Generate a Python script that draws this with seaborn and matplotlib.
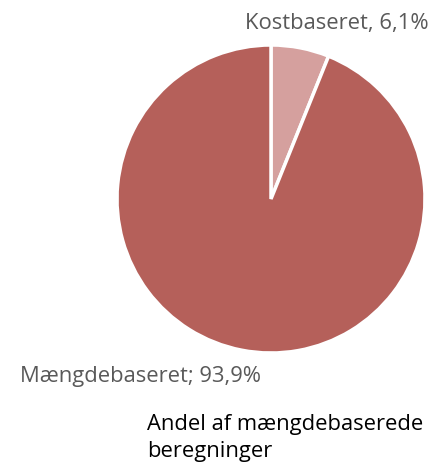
import matplotlib
matplotlib.use("Agg")
import matplotlib.pyplot as plt
import seaborn as sns

sns.set_theme(style="white")
plt.rcParams["font.family"] = ["Open Sans", "DejaVu Sans"]

categories = ["Kostbaseret", "Mængdebaseret"]
values = [6.1, 93.9]
labels = ["Kostbaseret, 6,1%", "Mængdebaseret; 93,9%"]
colors = ["#D5A09E", "#B5605A"]
title = "Andel af mængdebaserede\nberegninger"

W, H = 436, 462
fig = plt.figure(figsize=(W / 100, H / 100), dpi=100)
ax = fig.add_axes([117 / W, 1 - 353 / H, 308 / W, 308 / H])
ax.pie(values, colors=colors, startangle=90, counterclock=False,
       wedgeprops=dict(edgecolor="white", linewidth=2.5))
ax.set_xlim(-1, 1)
ax.set_ylim(-1, 1)
ax.set_aspect("equal")
ax.axis("off")

# labels
fs = 15.8
fig.text(245 / W, 1 - 29 / H, labels[0], fontsize=fs, color="#595959", va="baseline")
fig.text(20 / W, 1 - 382 / H, labels[1], fontsize=fs, color="#595959", va="baseline")
fig.text(147 / W, 1 - 430 / H, title.split("\n")[0], fontsize=fs, color="black", va="baseline")
fig.text(147 / W, 1 - 457 / H, title.split("\n")[1], fontsize=fs, color="black", va="baseline")

fig.savefig("out.png", dpi=100)
